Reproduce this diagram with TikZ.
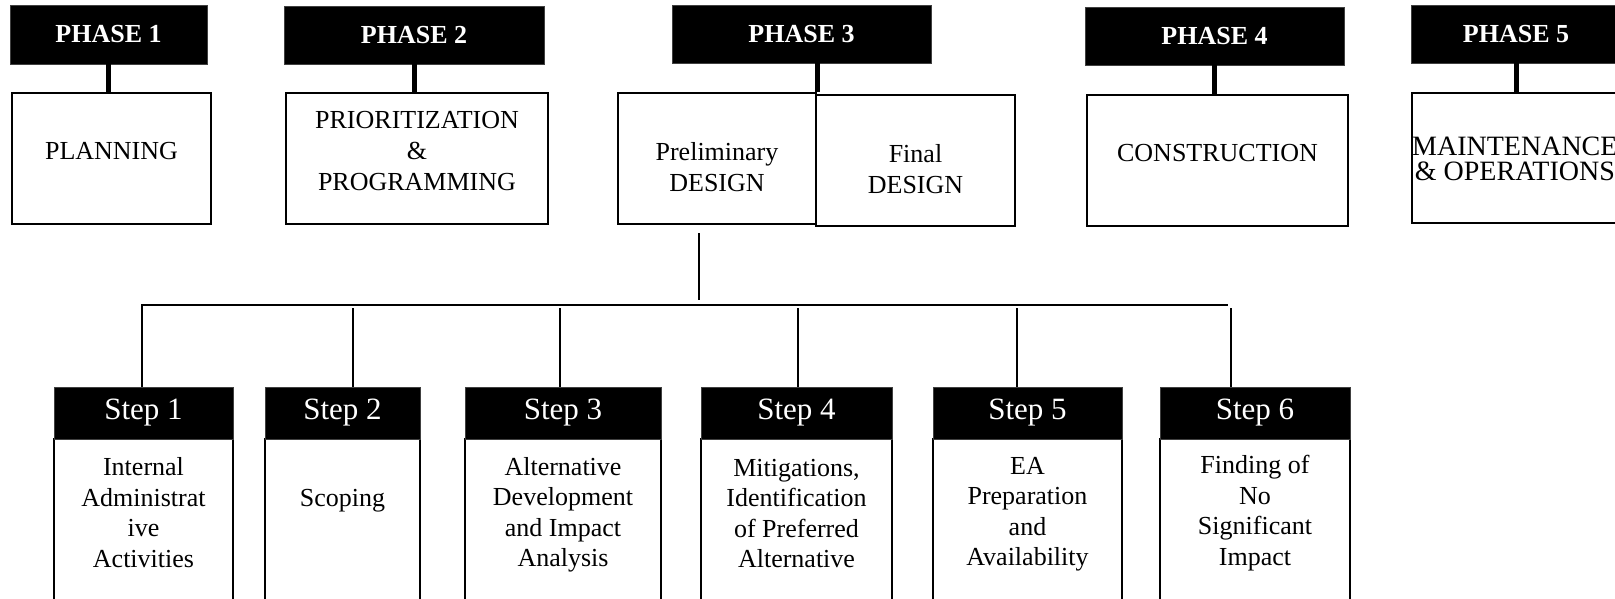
\documentclass[tikz,border=0pt]{standalone}
\usepackage{fontspec}
\setmainfont{Liberation Serif}
\begin{document}
\begin{tikzpicture}[x=1pt,y=-1pt,
  phase/.style={fill=black, draw=black!75, line width=0.8pt, inner sep=0pt, text=white, font=\fontsize{26}{31}\selectfont\bfseries},
  wbox/.style={draw=black, line width=2pt, fill=white, inner sep=0pt},
  lbl/.style={align=center, inner sep=0pt, font=\fontsize{26}{31}\selectfont},
  stem/.style={line width=5pt},
  tree/.style={line width=1.6pt},
  shead/.style={fill=black, draw=black!75, line width=0.8pt, inner sep=0pt, text=white, font=\fontsize{31}{36}\selectfont},
  sbody/.style={draw=black, line width=2pt, fill=white, inner sep=0pt},
  stxt/.style={align=center, inner sep=0pt, font=\fontsize{26}{30.5}\selectfont},
]
\useasboundingbox (0,0) rectangle (1615,599);

% phase headers
\node[phase, minimum width=197pt, minimum height=59pt] (p1) at (108.5,34.5) {PHASE 1};
\node[phase, minimum width=260pt, minimum height=58pt] (p2) at (414,35) {PHASE 2};
\node[phase, minimum width=259pt, minimum height=58pt] (p3) at (801.5,34) {PHASE 3};
\node[phase, minimum width=259pt, minimum height=58pt] (p4) at (1214.5,36) {PHASE 4};
\node[phase, minimum width=210pt, minimum height=58pt] (p5) at (1516,34) {PHASE 5};

% phase boxes
\node[wbox, minimum width=199pt, minimum height=131pt] (plan) at (111.5,158.5) {};
\node[wbox, minimum width=262pt, minimum height=131pt] (prio) at (417,158.5) {};
\node[wbox, minimum width=198pt, minimum height=131pt] (prel) at (717,158.5) {};
\node[wbox, minimum width=199pt, minimum height=131pt] (fin) at (915.5,160.5) {};
\node[wbox, minimum width=261pt, minimum height=131pt] (cons) at (1217.5,160.5) {};
\node[wbox, minimum width=218pt, minimum height=130pt] (main) at (1521,158) {};

\node[lbl] (tplan) at (111.5,151) {PLANNING};
\node[lbl] (tprio) at (417,151) {PRIORITIZATION\\\&\\PROGRAMMING};
\node[lbl] (tprel) at (717,167) {Preliminary\\DESIGN};
\node[lbl] (tfin) at (915.5,169) {Final\\DESIGN};
\node[lbl] (tcons) at (1217.5,153) {CONSTRUCTION};
\node[lbl, anchor=west, font=\fontsize{28}{25}\selectfont] (tmain) at (1412,159) {MAINTENANCE\\\& OPERATIONS};

% stems
\draw[stem] (p1.south) -- (p1.south |- plan.north);
\draw[stem] (p2.south) -- (p2.south |- prio.north);
\draw[stem] (prel.north east) -- (prel.north east |- p3.south);
\draw[stem] (p4.south) -- (p4.south |- cons.north);
\draw[stem] (p5.south) -- (p5.south |- main.north);

% steps
\foreach \n/\cx/\w in {1/143.5/179, 2/342.5/155, 3/563/196, 4/796.5/191, 5/1027.5/189, 6/1255/190}{
  \node[sbody, minimum width=\w pt, minimum height=201pt] (b\n) at (\cx,539.5) {};
  \node[shead, minimum width=\w pt, minimum height=52pt] (s\n) at (\cx,413) {Step \n};
}
\node[stxt] (t1) at (143.5,512.5) {Internal\\Administrat\\ive\\Activities};
\node[stxt] (t2) at (342.5,501) {Scoping};
\node[stxt] (t3) at (563,515) {Alternative\\Development\\and Impact\\Analysis};
\node[stxt] (t4) at (796.5,513.5) {Mitigations,\\Identification\\of Preferred\\Alternative};
\node[stxt] (t5) at (1027.5,514) {EA\\Preparation\\and\\Availability};
\node[stxt] (t6) at (1255,513) {Finding of\\No\\Significant\\Impact};

% tree
\coordinate (top) at (699,233);
\coordinate (hub) at (699,300);
\coordinate (c1) at (142,305);
\coordinate (cend) at (1228,305);
\coordinate (c2) at (353,308);
\coordinate (c3) at (560,308);
\coordinate (c4) at (798,308);
\coordinate (c5) at (1017,308);
\coordinate (c6) at (1231,308);
\draw[tree] (top) -- (hub);
\draw[tree] (c1 |- s1.north) -- (c1) -- (cend);
\foreach \n in {2,...,6}{
  \draw[tree] (c\n) -- (c\n |- s\n.north);
}
\end{tikzpicture}
\end{document}
